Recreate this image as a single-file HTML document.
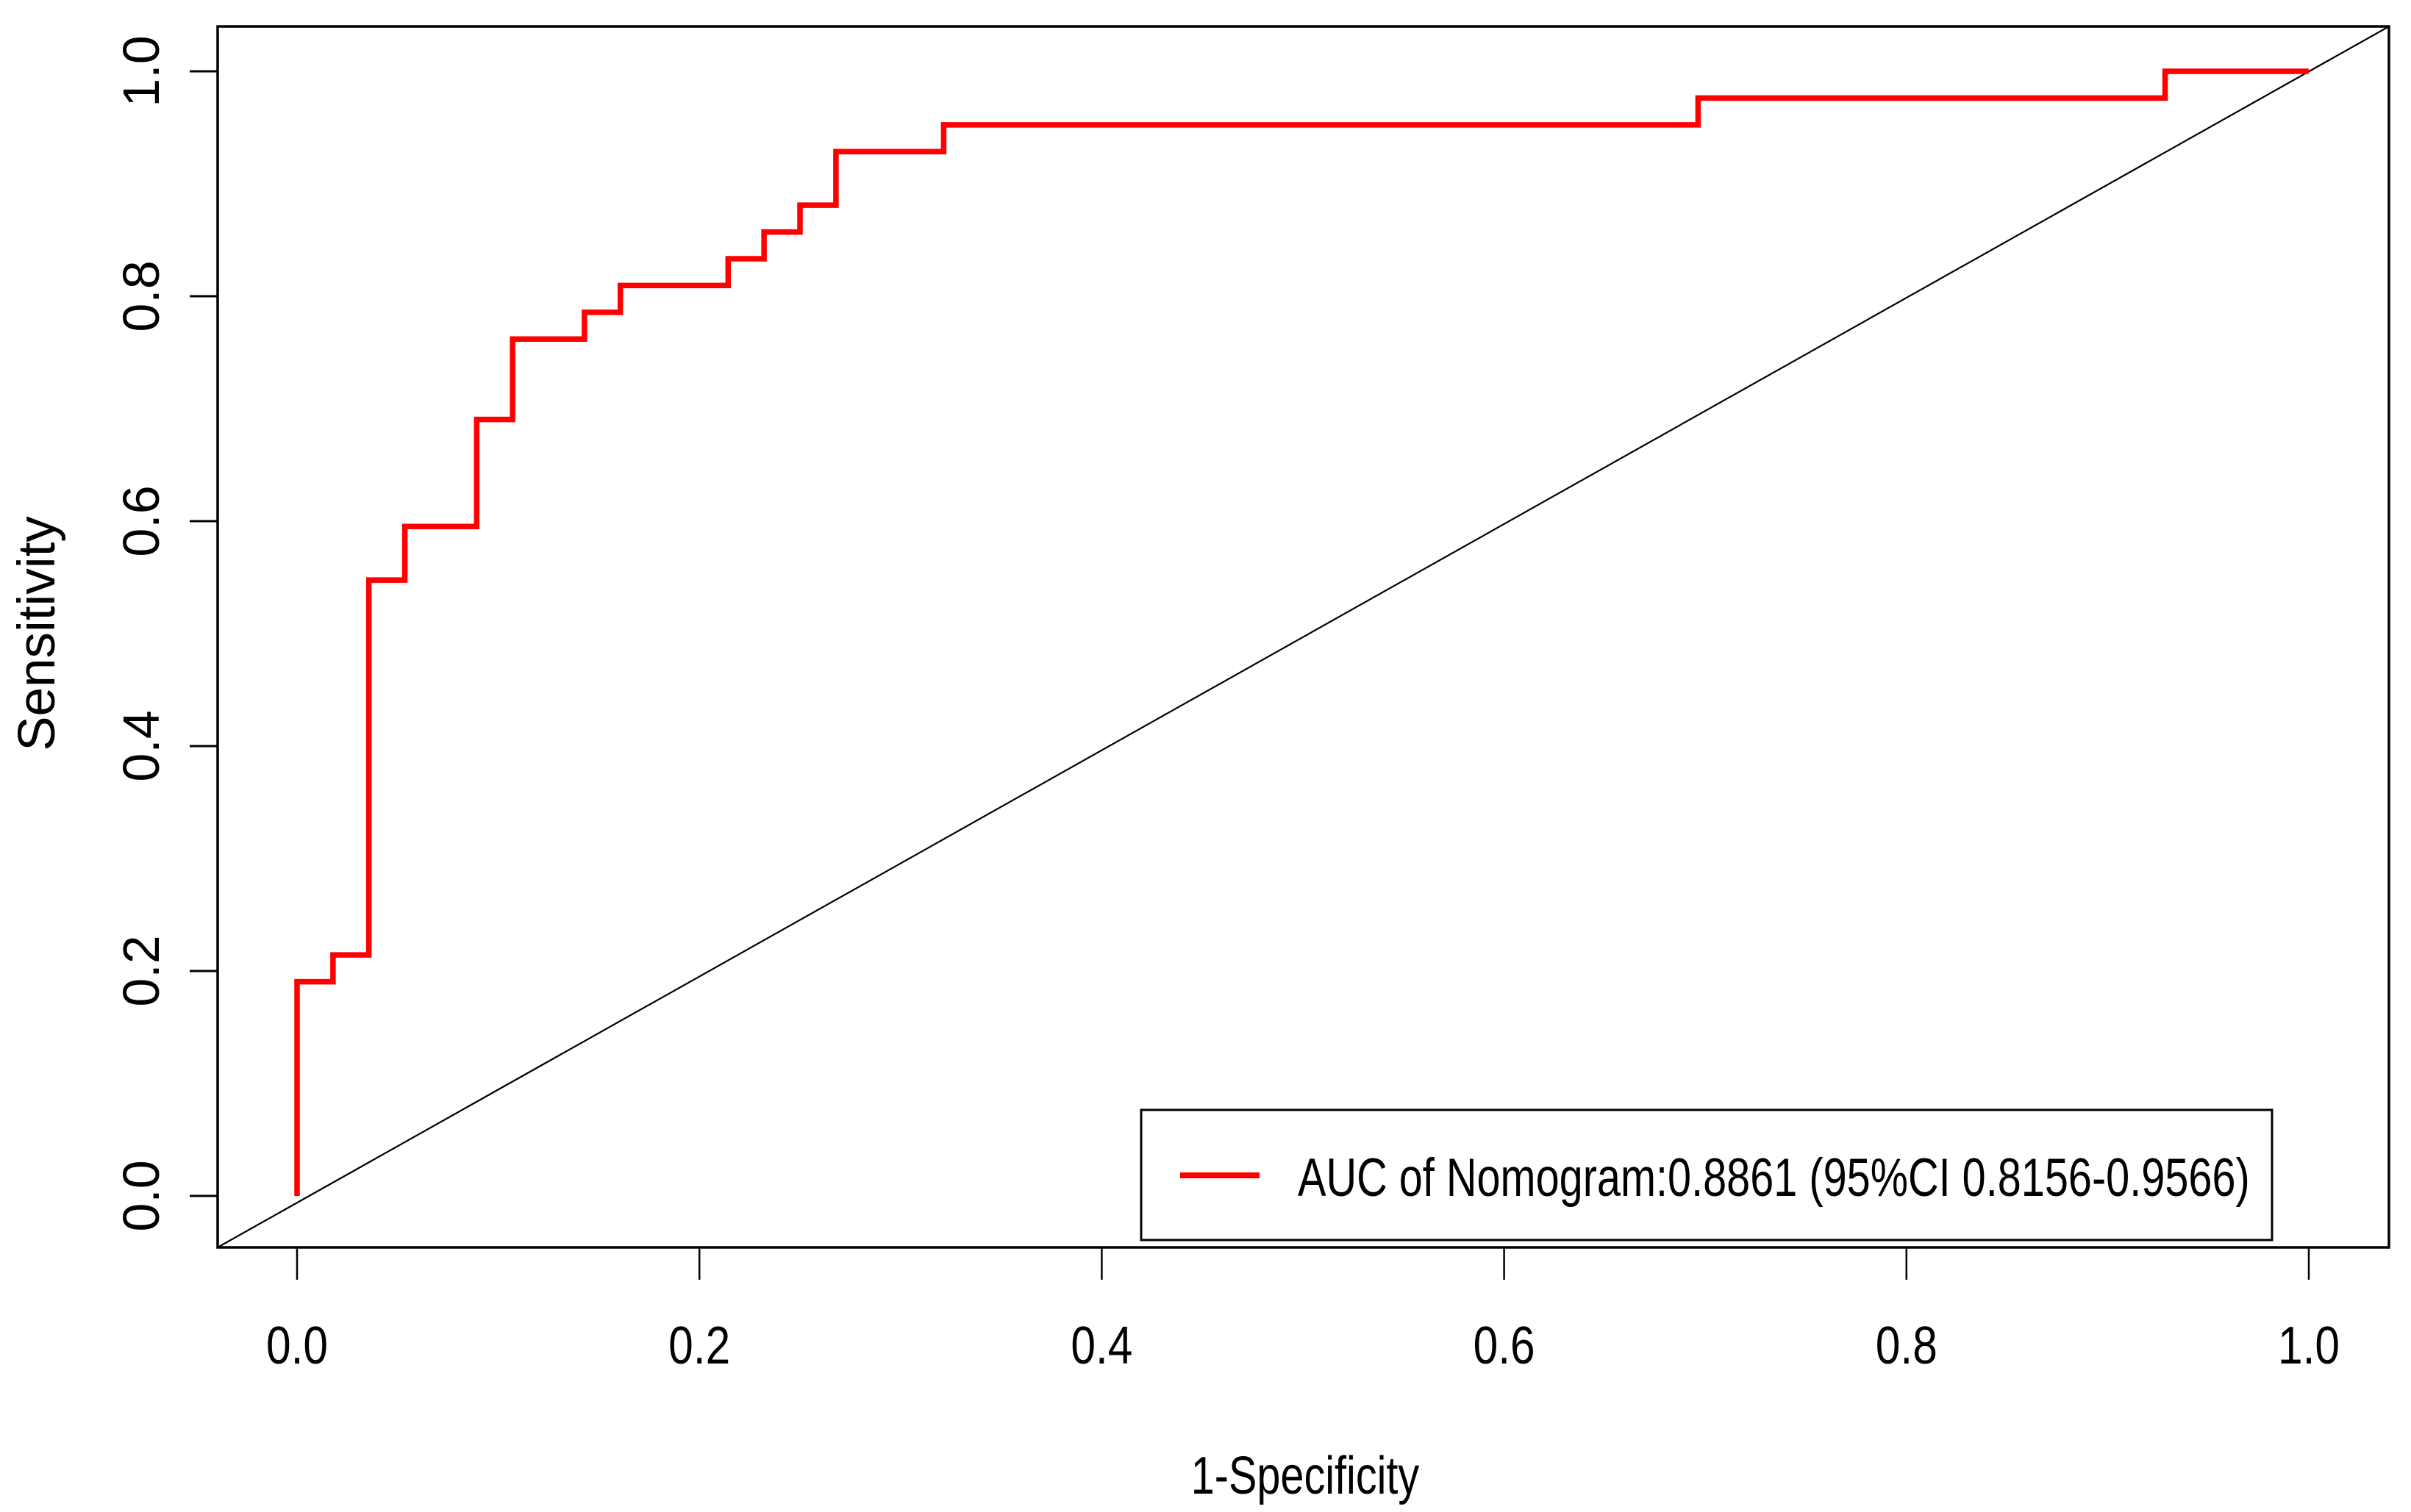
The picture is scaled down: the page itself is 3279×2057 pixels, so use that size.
<!DOCTYPE html>
<html><head><meta charset="utf-8"><style>
html,body{margin:0;padding:0;background:#fff;}
svg{display:block;}
</style></head><body>
<svg id="chart" width="3279" height="2057" viewBox="0 0 3279 2057" xmlns="http://www.w3.org/2000/svg">
<rect x="0" y="0" width="3279" height="2057" fill="#fff"/>
<g id="plot"></g>
</svg>
<script>
const fprValues = [0, 0, 1/56, 1/56, 2/56, 2/56, 3/56, 3/56, 5/56, 5/56, 6/56, 6/56, 8/56, 8/56, 9/56, 9/56, 12/56, 12/56, 13/56, 13/56, 14/56, 14/56, 15/56, 15/56, 18/56, 18/56, 39/56, 39/56, 52/56, 52/56, 1];
const tprValues = [0, 8/42, 8/42, 9/42, 9/42, 23/42, 23/42, 25/42, 25/42, 29/42, 29/42, 32/42, 32/42, 33/42, 33/42, 34/42, 34/42, 35/42, 35/42, 36/42, 36/42, 37/42, 37/42, 39/42, 39/42, 40/42, 40/42, 41/42, 41/42, 1, 1];
const xTickLabels = ["0.0","0.2","0.4","0.6","0.8","1.0"];
const xTicks = [0,0.2,0.4,0.6,0.8,1.0];
const yTickLabels = ["0.0","0.2","0.4","0.6","0.8","1.0"];
const yTicks = [0,0.2,0.4,0.6,0.8,1.0];
const legendLabel = "AUC of Nomogram:0.8861 (95%CI 0.8156-0.9566)";

const NS = "http://www.w3.org/2000/svg";
const box = {l:296, r:3249, t:36, b:1697};
function xs(v){ return 404 + v*(3140-404); }
function ys(v){ return 1627 - v*(1627-97); }
const g = document.getElementById('plot');
function mk(tag, attrs){ const e=document.createElementNS(NS,tag); for(const k in attrs) e.setAttribute(k,attrs[k]); g.appendChild(e); return e; }

const diag = mk('line',{x1:box.l,y1:box.b,x2:box.r,y2:box.t,stroke:'#000','stroke-width':2.2});



let d = '';
for(let i=0;i<fprValues.length;i++){ d += (i?'L':'M') + xs(fprValues[i]).toFixed(1) + ' ' + ys(tprValues[i]).toFixed(1) + ' '; }
const roc = mk('path',{d:d,fill:'none',stroke:'#ff0000','stroke-width':7.5,'stroke-linejoin':'miter'});



const frame = mk('rect',{x:box.l,y:box.t,width:box.r-box.l,height:box.b-box.t,fill:'none',stroke:'#000','stroke-width':3.5});



xTicks.forEach((v,i)=>{
  const t = mk('line',{x1:xs(v),y1:box.b,x2:xs(v),y2:box.b+44,stroke:'#000','stroke-width':2.5});
  
  
  const tx = mk('text',{x:0,y:0,'font-family':'Liberation Sans, sans-serif','font-size':72,'text-anchor':'middle',transform:`translate(${xs(v)},1855) scale(0.84,1)`});
  tx.textContent = xTickLabels[i];
  
  
});
yTicks.forEach((v,i)=>{
  const t = mk('line',{x1:box.l-38,y1:ys(v),x2:box.l,y2:ys(v),stroke:'#000','stroke-width':3});
  
  
  const tx = mk('text',{x:0,y:0,'font-family':'Liberation Sans, sans-serif','font-size':70,'text-anchor':'middle',transform:`translate(216,${ys(v)}) rotate(-90)`});
  tx.textContent = yTickLabels[i];
  
  
});
const xt = mk('text',{x:0,y:0,'font-family':'Liberation Sans, sans-serif','font-size':72,'text-anchor':'middle',transform:'translate(1775,2032) scale(0.80,1)'});
xt.textContent='1-Specificity';


const yt = mk('text',{x:0,y:0,'font-family':'Liberation Sans, sans-serif','font-size':71,'text-anchor':'middle',transform:'translate(74,862) rotate(-90)'});
yt.textContent='Sensitivity';



const lg = mk('rect',{x:1552,y:1510,width:3090-1552,height:1687-1510,fill:'#fff',stroke:'#000','stroke-width':3});


const ll = mk('line',{x1:1605,y1:1599,x2:1713,y2:1599,stroke:'#ff0000','stroke-width':8});


const lt = mk('text',{x:0,y:0,'font-family':'Liberation Sans, sans-serif','font-size':73,transform:'translate(1765,1627) scale(0.79,1)'});
lt.textContent = legendLabel;


</script>
</body></html>
